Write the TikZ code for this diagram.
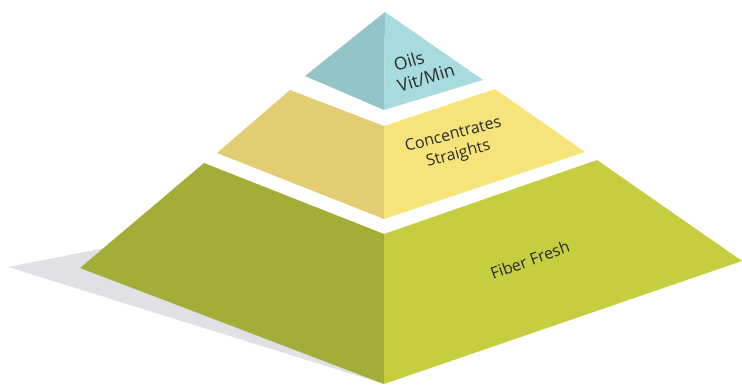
\documentclass[tikz,border=0pt]{standalone}
\usepackage{fontspec}
\setmainfont{Open Sans}
\definecolor{tealL}{HTML}{93C5C8}
\definecolor{tealR}{HTML}{A8DBDE}
\definecolor{yelL}{HTML}{E3CD72}
\definecolor{yelR}{HTML}{F6E47B}
\definecolor{grnL}{HTML}{A3AE38}
\definecolor{grnR}{HTML}{C6CE3F}
\definecolor{shadowc}{HTML}{E0E1E4}
\definecolor{txt}{HTML}{2A2A2A}
\begin{document}
\begin{tikzpicture}[x=1pt,y=-1pt,
  lbl/.style={text=txt,align=center,font=\fontsize{16}{20}\selectfont,inner sep=0pt},
  toplbl/.style={text=txt,font=\fontsize{17.5}{21}\selectfont,inner sep=0pt,rotate=17}]
\useasboundingbox (0,0) rectangle (742,387);
% coordinates (pixels, y down)
\coordinate (A) at (385,12);
\coordinate (TL) at (305,76);
\coordinate (TR) at (483,80);
\coordinate (TB) at (384,110);
\coordinate (YTL) at (290,90);
\coordinate (YTR) at (495,89);
\coordinate (YT) at (384,126);
\coordinate (YL) at (217,153);
\coordinate (YR) at (585,152);
\coordinate (YB) at (384,219);
\coordinate (GTL) at (204,163);
\coordinate (GT) at (384,234);
\coordinate (GTR) at (597,160);
\coordinate (GR) at (742,261);
\coordinate (GB) at (384,384);
\coordinate (GL) at (80,268);
\coordinate (S1) at (8,267);
\coordinate (S2) at (110,247);
% shadow
\fill[shadowc] (S1) -- (S2) -- (GB) -- cycle;
% green tier
\fill[grnL] (GTL) -- (GT) -- (GB) -- (GL) -- cycle;
\fill[grnR] (GT) -- (GTR) -- (GR) -- (GB) -- cycle;
% yellow tier
\fill[yelL] (YTL) -- (YT) -- (YB) -- (YL) -- cycle;
\fill[yelR] (YT) -- (YTR) -- (YR) -- (YB) -- cycle;
% teal tier
\fill[tealL] (A) -- (TB) -- (TL) -- cycle;
\fill[tealR] (A) -- (TR) -- (TB) -- cycle;
% labels
\node[toplbl] (oils) at (409,61) {Oils};
\node[toplbl] (vit) at (426,78) {Vit/Min};
\node[lbl,rotate=15] (conc) at (456,145) {Concentrates\\Straights};
\node[lbl,rotate=20] (fiber) at (530,260) {Fiber Fresh};
\end{tikzpicture}
\end{document}
